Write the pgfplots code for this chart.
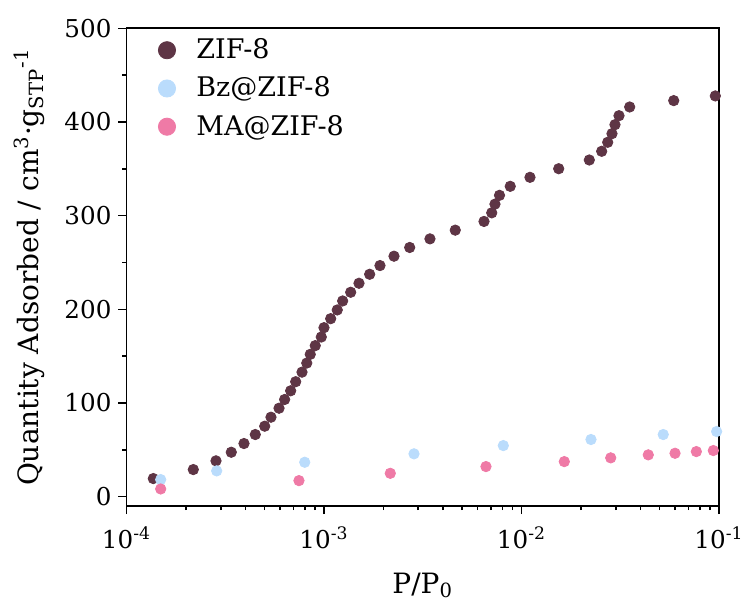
\documentclass[border=0pt]{standalone}
\usepackage{fontspec}
\setmainfont{DejaVu Serif}
\usepackage{pgfplots}
\pgfplotsset{compat=1.18}
\definecolor{zif}{HTML}{5E3545}
\definecolor{bz}{HTML}{BADCFC}
\definecolor{ma}{HTML}{EF7AA6}
\begin{document}
\begin{tikzpicture}
\begin{axis}[
  scale only axis, width=296.25pt, height=238.85pt,
  xmode=log, xmin=1e-4, xmax=1e-1, ymin=-10, ymax=500,
  xtick={1e-4,1e-3,1e-2,1e-1},
  xticklabels={10\textsuperscript{-4},10\textsuperscript{-3},10\textsuperscript{-2},10\textsuperscript{-1}},
  minor xtick={2e-4,3e-4,4e-4,5e-4,6e-4,7e-4,8e-4,9e-4,2e-3,3e-3,4e-3,5e-3,6e-3,7e-3,8e-3,9e-3,2e-2,3e-2,4e-2,5e-2,6e-2,7e-2,8e-2,9e-2},
  ytick={0,100,200,300,400,500},
  minor ytick={50,150,250,350,450},
  tick pos=left, tick align=outside,
  major tick length=4pt, minor tick length=2pt,
  axis line style={line width=0.9pt},
  every tick/.style={line width=0.8pt, black},
  /pgf/number format/assume math mode=true,
  tick label style={font=\fontsize{12.3}{14}\selectfont},
  xticklabel style={yshift=-3pt},
  xlabel={P/P\textsubscript{0}},
  ylabel={Quantity Adsorbed / cm\textsuperscript{3}·g\textsubscript{STP}\textsuperscript{-1}},
  label style={font=\fontsize{14}{16}\selectfont},
  xlabel style={yshift=-5pt},
  ylabel style={yshift=3pt},
  legend cell align=left,
  legend style={at={(axis description cs:0,1)}, anchor=north west, xshift=12.75pt, yshift=-1pt,
    draw=none, fill=none, font=\fontsize{13.5}{16}\selectfont, row sep=3.6pt, column sep=8.4pt},
  legend image post style={mark size=4.3pt},
]
\addplot[only marks, mark=*, mark size=2.6pt, color=zif] coordinates {
(1.367e-4,19.3) (2.179e-4,28.9) (2.839e-4,38.2) (3.393e-4,47.4) (3.935e-4,56.7)
(4.489e-4,66.3) (5.010e-4,75.2) (5.39e-4,84.8) (5.92e-4,94.4) (6.32e-4,103.7)
(6.78e-4,113.0) (7.19e-4,122.7) (7.74e-4,132.9) (8.18e-4,142.6) (8.52e-4,151.9)
(9.03e-4,161.2) (9.69e-4,170.4) (1.0e-3,180.4) (1.081e-3,190.0) (1.167e-3,199.3)
(1.243e-3,208.9) (1.365e-3,218.2) (1.504e-3,227.8) (1.703e-3,237.4) (1.921e-3,246.7)
(2.262e-3,256.7) (2.716e-3,266.0) (3.44e-3,275.2) (4.62e-3,284.5) (6.46e-3,293.8)
(7.07e-3,303.0) (7.34e-3,312.3) (7.74e-3,321.7) (8.77e-3,331.3) (1.104e-2,340.9)
(1.543e-2,350.1) (2.205e-2,359.4) (2.547e-2,368.7) (2.732e-2,378.3) (2.872e-2,387.5)
(2.974e-2,397.1) (3.117e-2,406.7) (3.53e-2,416.0) (5.90e-2,422.8) (9.58e-2,427.8)
};
\addlegendentry{ZIF-8}
\addplot[only marks, mark=*, mark size=2.6pt, color=bz] coordinates {
(1.49e-4,18.2) (2.862e-4,27.5) (7.99e-4,36.7) (2.856e-3,45.7) (8.09e-3,54.5)
(2.248e-2,61.0) (5.22e-2,66.3) (9.73e-2,69.5)
};
\addlegendentry{Bz@ZIF-8}
\addplot[only marks, mark=*, mark size=2.6pt, color=ma] coordinates {
(1.49e-4,8.2) (7.47e-4,17.1) (2.166e-3,24.9) (6.61e-3,32.1) (1.647e-2,37.4)
(2.83e-2,41.4) (4.385e-2,44.6) (5.99e-2,46.3) (7.68e-2,48.1) (9.36e-2,49.2)
};
\addlegendentry{MA@ZIF-8}
\end{axis}
\pgfresetboundingbox
\path[use as bounding box] (current axis.south west) ++(-63.25pt,-49pt) rectangle ++(373.5pt,302pt);
\end{tikzpicture}
\end{document}
